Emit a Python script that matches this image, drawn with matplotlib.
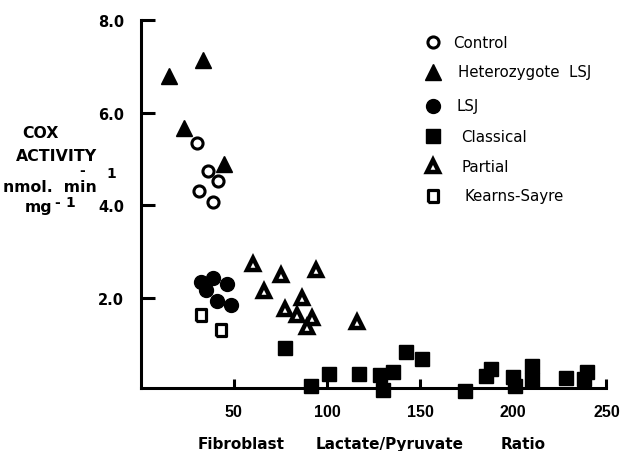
import matplotlib
matplotlib.use("Agg")
import matplotlib.pyplot as plt

# ---------------- data ----------------
control_x = [30.4, 36.3, 41.7, 31.2, 39.0]
control_y = [5.34, 4.75, 4.53, 4.30, 4.08]

het_x = [33.3, 15.2, 23.3, 44.9]
het_y = [7.14, 6.80, 5.66, 4.89]

lsj_x = [32.3, 38.7, 35.1, 46.2, 40.8, 48.3]
lsj_y = [2.35, 2.44, 2.17, 2.30, 1.94, 1.85]

ks_x = [32.3, 43.3]
ks_y = [1.64, 1.31]

partial_x = [60.5, 75.2, 94.0, 66.4, 86.8, 77.3, 83.8, 91.8, 89.5, 116.0]
partial_y = [2.73, 2.50, 2.61, 2.16, 2.00, 1.76, 1.63, 1.57, 1.37, 1.49]

classical_x = [77.5, 91.3, 101.1, 117.0, 128.5, 129.9, 135.3, 142.3, 150.8,
               174.1, 185.3, 188.0, 200.0, 200.9, 210.2, 210.2, 228.3,
               238.1, 239.7]
classical_y = [0.92, 0.11, 0.36, 0.36, 0.34, 0.02, 0.41, 0.83, 0.69,
               -0.01, 0.32, 0.47, 0.30, 0.09, 0.54, 0.23, 0.27,
               0.24, 0.41]

x_ticks = [50, 100, 150, 200, 250]
y_ticks = [2.0, 4.0, 6.0, 8.0]

W, H = 628, 452


def fx(px):
    return px / W


def fy(py):
    return 1 - py / H


# marker styles per group
rect = [(-0.8, -1), (0.8, -1), (0.8, 1), (-0.8, 1), (-0.8, -1)]
styles = {
    "Control": dict(marker="o", ms=8, mfc="white", mec="black", mew=2.2),
    "Heterozygote  LSJ": dict(marker="^", ms=12, mfc="black", mec="black", mew=1),
    "LSJ": dict(marker="o", ms=10, mfc="black", mec="black", mew=1),
    "Classical": dict(marker="s", ms=9.5, mfc="black", mec="black", mew=1),
    "Partial": dict(marker="^", ms=8.5, mfc="white", mec="black", mew=3.2),
    "Kearns-Sayre": dict(marker=rect, ms=8.5, mfc="white", mec="black", mew=2.3),
}

fig = plt.figure(figsize=(6.28, 4.52), dpi=100)
ax = fig.add_axes([fx(140.6), fy(391.6), fx(250 * 1.8635), 0.8197])

groups = [
    ("Control", control_x, control_y),
    ("Heterozygote  LSJ", het_x, het_y),
    ("LSJ", lsj_x, lsj_y),
    ("Classical", classical_x, classical_y),
    ("Partial", partial_x, partial_y),
    ("Kearns-Sayre", ks_x, ks_y),
]
for name, xs, ys in groups:
    ax.plot(xs, ys, ls="none", clip_on=False, zorder=3, **styles[name])

ax.set_xlim(0, 250)
ax.set_ylim(0, 8.0)

for s in ("top", "right"):
    ax.spines[s].set_visible(False)
ax.spines["bottom"].set_position(("data", 0.06))
ax.spines["bottom"].set_bounds(0, 250)
ax.spines["left"].set_bounds(0.06, 8.0)
for s in ("left", "bottom"):
    ax.spines[s].set_linewidth(2.2)
    ax.spines[s].set_capstyle("projecting")

ax.set_xticks(x_ticks)
ax.set_xticklabels([str(v) for v in x_ticks], fontfamily="Liberation Sans",
                   fontweight="bold", fontsize=11.5)
ax.set_yticks(y_ticks)
ax.set_yticklabels(["%.1f" % v for v in y_ticks], fontfamily="DejaVu Sans",
                   fontweight="bold", fontsize=10.5)
ax.tick_params(axis="x", direction="in", length=6.5, width=2.2, pad=12)
ax.tick_params(axis="y", direction="in", length=10, width=2.2, pad=12)

# legend, hand placed like the original
leg_rows = [("Control", 43, 453), ("Heterozygote  LSJ", 73, 458), ("LSJ", 107, 457),
            ("Classical", 137, 461), ("Partial", 167, 462), ("Kearns-Sayre", 197, 465)]
for name, py, tx in leg_rows:
    ax.plot([fx(433)], [fy(py)], transform=fig.transFigure, clip_on=False,
            ls="none", **styles[name])
    fig.text(fx(tx), fy(py), name, ha="left", va="center",
             fontfamily="DejaVu Sans", fontsize=10.8)

# y axis label block
lab = dict(fontfamily="DejaVu Sans", fontweight="bold", fontsize=11.3)
sup = dict(fontfamily="DejaVu Sans", fontweight="bold", fontsize=10,
           ha="left", va="baseline")
fig.text(fx(40), fy(133), "COX", ha="center", va="center", **lab)
fig.text(fx(57), fy(157), "ACTIVITY", ha="center", va="center", **lab)
fig.text(fx(3), fy(192), "nmol.  min", ha="left", va="baseline", **lab)
fig.text(fx(79), fy(175.5), "-", **sup)
fig.text(fx(106), fy(178), "1", **sup)
fig.text(fx(25), fy(212), "mg", ha="left", va="baseline", **lab)
fig.text(fx(54), fy(207), "-", **sup)
fig.text(fx(65), fy(207), "1", **sup)

# x axis label, three words spread out
xl = dict(fontfamily="DejaVu Sans", fontweight="bold", fontsize=11, va="center")
fig.text(fx(241), fy(445), "Fibroblast", ha="center", **xl)
fig.text(fx(390), fy(445), "Lactate/Pyruvate", ha="center", **xl)
fig.text(fx(523), fy(445), "Ratio", ha="center", **xl)

fig.savefig("out.png", dpi=100)
